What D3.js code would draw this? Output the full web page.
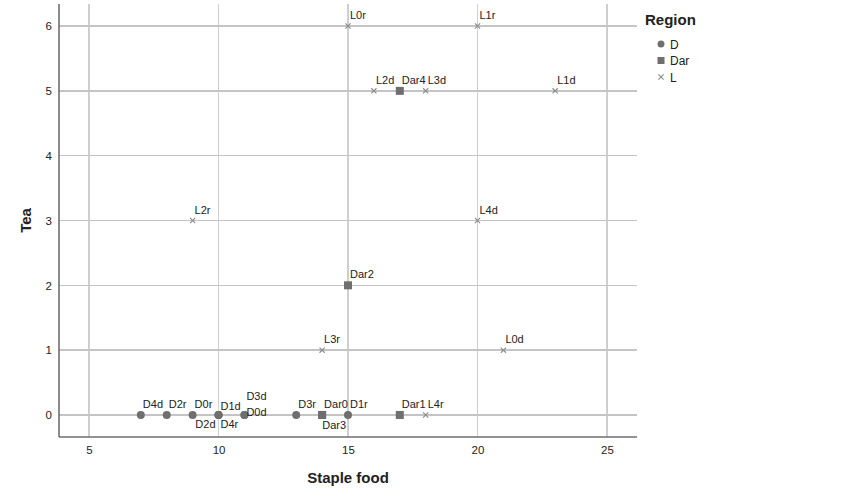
<!DOCTYPE html>
<html><head><meta charset="utf-8">
<script src="https://cdn.jsdelivr.net/npm/d3@7"></script>
<style>body{margin:0;background:#fff}svg{display:block;font-family:"Liberation Sans",Arial,sans-serif}</style>
</head><body><svg id="c" width="851" height="501"></svg>
<script>
const names   = ["D4d","D2r","D0r","D1d","D2d","D4r","D3d","D0d","D3r","D1r",
                 "Dar0","Dar3","Dar1","Dar2","Dar4",
                 "L0r","L1r","L2d","L3d","L1d","L2r","L4d","L3r","L0d","L4r"];
const region  = ["D","D","D","D","D","D","D","D","D","D",
                 "Dar","Dar","Dar","Dar","Dar",
                 "L","L","L","L","L","L","L","L","L","L"];
const staple  = [7,8,9,10,10,10,11,11,13,15, 14,14,17,15,17, 15,20,16,18,23,9,20,14,21,18];
const tea     = [0,0,0,0,0,0,0,0,0,0, 0,0,0,2,5, 6,6,5,5,5,3,3,1,1,0];
// label placement codes
const labelAt = ["ne","ne","ne","nel","sw","se","nn","e","ne","ne",
                 "ne","sw2","ne","ne","ne",
                 "ne","ne","ne","ne","ne","ne","ne","ne","ne","ne"];
const regions = ["D","Dar","L"];
const xTicks = [5,10,15,20,25];
const yTicks = [0,1,2,3,4,5,6];

const svg = d3.select("#c");
const L = 59, R = 637, T = 4, B = 437;
const x = d3.scaleLinear().domain([3.84, 26.16]).range([L, R]);
const y = d3.scaleLinear().domain([-0.34, 6.34]).range([B, T]);

// grid
svg.append("g").selectAll("line").data(xTicks).join("line")
  .attr("x1", d => x(d)).attr("x2", d => x(d)).attr("y1", T).attr("y2", B)
  .attr("stroke", "#cfcfcf").attr("stroke-width", 1.3).attr("shape-rendering","crispEdges");
svg.append("g").selectAll("line").data(yTicks).join("line")
  .attr("y1", d => y(d)).attr("y2", d => y(d)).attr("x1", L).attr("x2", R)
  .attr("stroke", "#c4c4c4").attr("stroke-width", 1.3).attr("shape-rendering","crispEdges");

// axes
const xa = svg.append("g").attr("transform", `translate(0,${B})`)
  .call(d3.axisBottom(x).tickValues(xTicks).tickFormat(d3.format("d")).tickSize(0).tickPadding(9));
const ya = svg.append("g").attr("transform", `translate(${L},0)`)
  .call(d3.axisLeft(y).tickValues(yTicks).tickFormat(d3.format("d")).tickSize(0).tickPadding(7));
[xa, ya].forEach(a => {
  a.select(".domain").attr("stroke", "#6e6e6e").attr("stroke-width", 1.6);
  a.selectAll("text").attr("font-size", 11.5).attr("fill", "#222").attr("font-family", "Liberation Sans, Arial, sans-serif");
});
xa.select(".domain").attr("d", `M${L},0H${R}`);
ya.select(".domain").attr("d", `M0,${T}V${B}`);

// titles
svg.append("text").attr("x", (L + R) / 2).attr("y", 483).attr("text-anchor", "middle")
  .attr("font-size", 15).attr("font-weight", "bold").attr("fill", "#222").text("Staple food");
svg.append("text").attr("transform", `translate(31,${(T + B) / 2}) rotate(-90)`).attr("text-anchor", "middle")
  .attr("font-size", 15).attr("font-weight", "bold").attr("fill", "#222").text("Tea");

const markColor = "#6f6f6f";
function drawMark(g, r) {
  if (r === "D") g.append("circle").attr("r", 4).attr("fill", markColor);
  else if (r === "Dar") g.append("rect").attr("x", -4).attr("y", -4).attr("width", 8).attr("height", 8).attr("fill", markColor);
  else g.append("path").attr("d", "M-2.6,-2.6L2.6,2.6M-2.6,2.6L2.6,-2.6").attr("stroke", "#8a8a8a").attr("stroke-width", 1.1).attr("fill", "none");
}

const idx = d3.range(names.length);
const pts = svg.append("g").selectAll("g").data(idx).join("g")
  .attr("transform", i => `translate(${x(staple[i])},${y(tea[i])})`);
pts.each(function(i){ drawMark(d3.select(this), region[i]); });

const off = {ne:[2,-7,"start"], nel:[2,-5,"start"], nn:[2,-15,"start"], e:[2,1,"start"],
             sw:[-3,13,"end"], se:[2,13,"start"], sw2:[24,14,"end"]};
svg.append("g").selectAll("text").data(idx).join("text")
  .attr("x", i => x(staple[i]) + off[labelAt[i]][0])
  .attr("y", i => y(tea[i]) + off[labelAt[i]][1])
  .attr("text-anchor", i => off[labelAt[i]][2])
  .attr("font-size", 11).attr("fill", "#222").text(i => names[i]);

// legend
svg.append("text").attr("x", 645).attr("y", 25).attr("font-size", 15).attr("font-weight", "bold")
  .attr("fill", "#222").text("Region");
const lg = svg.append("g").selectAll("g").data(regions).join("g")
  .attr("transform", (d, i) => `translate(661,${44 + i * 16.5})`);
lg.each(function(r){
  const g = d3.select(this);
  if (r === "D") g.append("circle").attr("r", 3.5).attr("fill", markColor);
  else if (r === "Dar") g.append("rect").attr("x", -3.5).attr("y", -3.5).attr("width", 7).attr("height", 7).attr("fill", markColor);
  else g.append("path").attr("d", "M-2.6,-2.6L2.6,2.6M-2.6,2.6L2.6,-2.6").attr("stroke", "#8a8a8a").attr("stroke-width", 1.1);
  g.append("text").attr("x", 9).attr("y", 4.5).attr("font-size", 12).attr("fill", "#222").text(r);
});
</script></body></html>
